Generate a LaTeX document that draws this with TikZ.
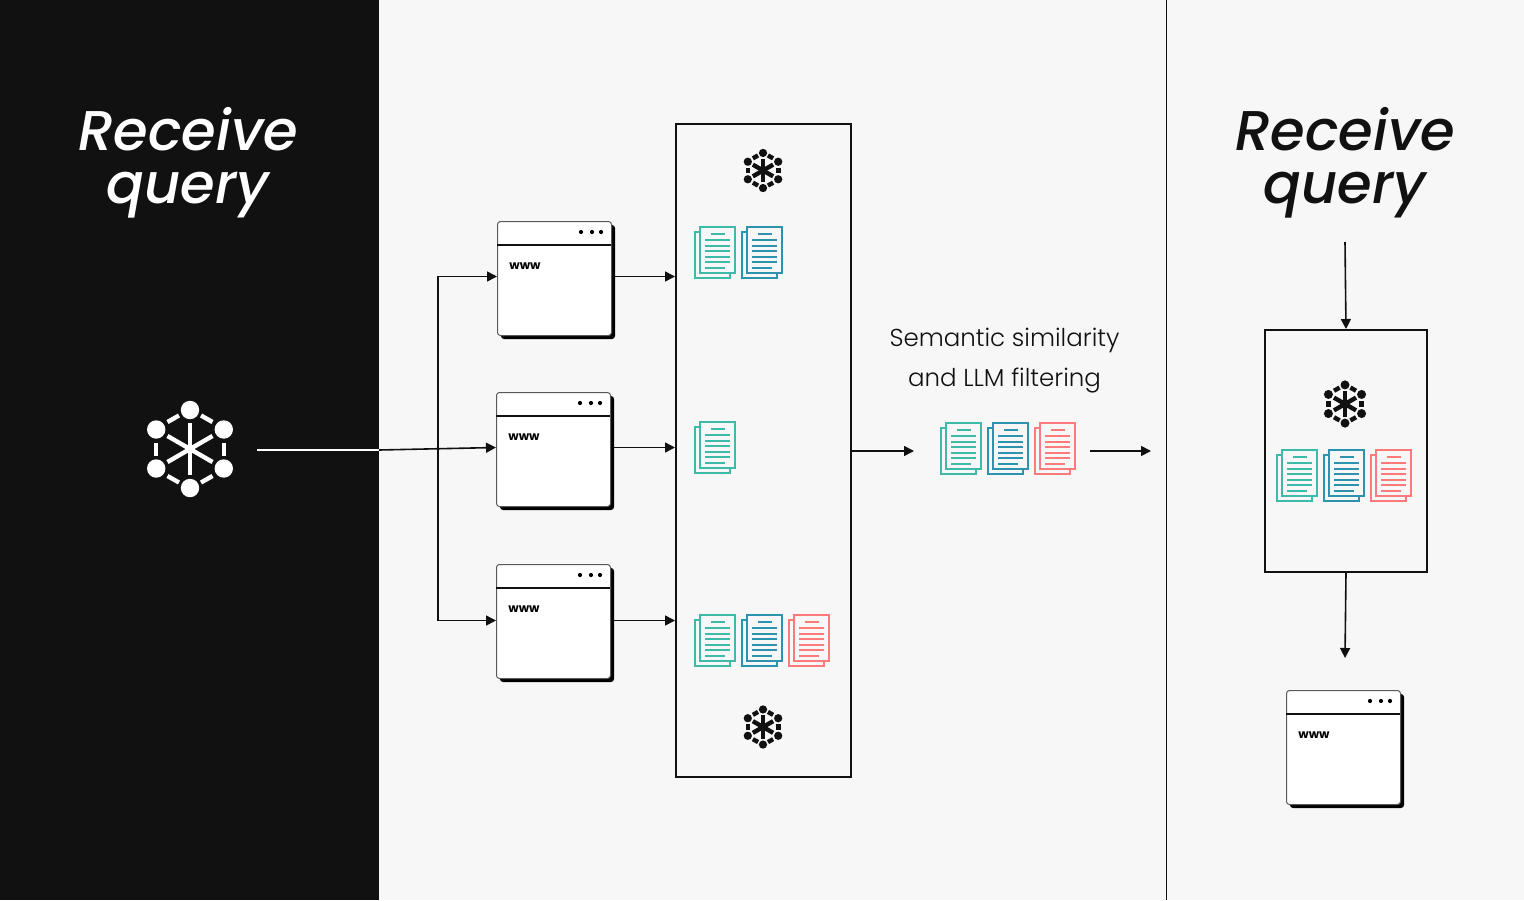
\documentclass[tikz,border=0pt]{standalone}
\usepackage{fontspec}
\setmainfont{Poppins}
\newfontfamily\headfont[UprightFont=* Medium Italic]{Poppins}
\newfontfamily\lightfont[UprightFont=* Light]{Poppins}
\usetikzlibrary{arrows.meta}
\definecolor{ink}{HTML}{111111}
\definecolor{paper}{HTML}{F7F7F7}
\definecolor{docteal}{HTML}{3EBBA8}
\definecolor{docblue}{HTML}{2E93AF}
\definecolor{docred}{HTML}{FF7B7B}
\tikzset{
  x=1pt,y=-1pt,
  conn/.style={draw=ink,line width=1.6pt,-{Triangle[length=10pt,width=10pt]}},
  plainconn/.style={draw=ink,line width=1.6pt},
  frame/.style={draw=ink,line width=2pt,fill=none,minimum width=#1,inner sep=0pt},
  head/.style={font=\headfont\fontsize{56}{53}\selectfont,align=center,inner sep=0pt},
  browser/.style={draw=ink!70,line width=1pt,fill=white,rounded corners=3pt,
    minimum width=114pt,minimum height=114pt,inner sep=0pt},
  doc/.pic={
    \draw[line width=2pt,draw=#1] (0,5) rectangle (35,51);
    \draw[line width=2pt,draw=#1,fill=paper] (5,0) rectangle (40,46);
    \foreach \yy/\xa/\xb in {7/16/30,13/10/35,18.7/10/35,24/10/35,29.7/10/35,35/10/35,40.7/10/30}
      \draw[line width=1.7pt,draw=#1] (\xa,\yy) -- (\xb,\yy);
  },
  hexicon/.pic={
    \foreach \a in {30,90,...,330} {
      \fill[#1] (\a:39) circle (9.2);
      \draw[#1,line width=4.4pt] (\a:14) ++(0,0);
    }
    \foreach \a in {30,90,150} \draw[draw=#1,line width=4.4pt] (\a:26) -- (\a+180:26);
    \foreach \a in {0,60,...,300} \draw[draw=#1,line width=4.4pt] (\a:33.8-7) ++(0,0);
    \draw[draw=#1,line width=4.4pt] (34,-6.5) -- (34,6.5);
    \draw[draw=#1,line width=4.4pt] (-34,-6.5) -- (-34,6.5);
    \draw[draw=#1,line width=4.4pt] (11,-33.5) -- (22.5,-27);
    \draw[draw=#1,line width=4.4pt] (-11,-33.5) -- (-22.5,-27);
    \draw[draw=#1,line width=4.4pt] (11,33.5) -- (22.5,27);
    \draw[draw=#1,line width=4.4pt] (-11,33.5) -- (-22.5,27);
  },
}
\newcommand{\browserparts}[1]{%
  \draw[ink,line width=1.2pt] (#1.west |- 0,0) ++(0,0);
}
\newcommand{\makebrowser}[3]{% name, left, top
  \fill[black,rounded corners=3pt] (#2+4,#3+4) rectangle (#2+118,#3+118);
  \node[browser,anchor=north west] (#1) at (#2,#3) {};
  \draw[ink,line width=1.2pt] (#2,#3+24) -- (#2+114,#3+24);
  \fill[black] (#2+84,#3+11) circle (2.1) (#2+95,#3+11) circle (2.1) (#2+104,#3+11) circle (2.1);
  \node[font=\fontsize{12}{12}\selectfont\bfseries,text=black,inner sep=0pt] (#1www) at (#2+28,#3+45) {www};
}
\begin{document}
\begin{tikzpicture}
\useasboundingbox (0,0) rectangle (1524,900);
\fill[paper] (0,0) rectangle (1524,900);
\fill[ink] (0,0) rectangle (379,900);
\draw[ink,line width=1pt] (1166.5,0) -- (1166.5,900);

\node[head,text=white] (leftTitle) at (188,163) {Receive\\query};
\node[head,text=ink] (rightTitle) at (1345,163) {Receive\\query};

\pic at (190,449) {hexicon=white};
\coordinate (qstart) at (257,450);
\coordinate (edge) at (379,450);
\coordinate (junction) at (438,450);

\makebrowser{b1}{497}{221}
\makebrowser{b2}{496}{392}
\makebrowser{b3}{496}{564}
\makebrowser{b4}{1286}{690}

\node[frame=175pt,minimum height=653pt,anchor=north west] (bigbox) at (675,123) {};
\node[frame=162pt,minimum height=242pt,anchor=north west] (rightbox) at (1264,329) {};

\draw[white,line width=1.6pt] (qstart) -- (edge);
\draw[conn] (edge) -- ([yshift=2pt]b2.west);
\draw[conn] (junction) -- ([yshift=2pt]junction |- b1.west) -- ([yshift=2pt]b1.west);
\draw[conn] (junction) -- ([yshift=1pt]junction |- b3.west) -- ([yshift=1pt]b3.west);
\draw[conn] ([shift={(3pt,2pt)}]b1.east) -- ([yshift=2pt]bigbox.west |- b1.east);
\draw[conn] ([shift={(3pt,2pt)}]b2.east) -- ([yshift=2pt]bigbox.west |- b2.east);
\draw[conn] ([shift={(3pt,1pt)}]b3.east) -- ([yshift=1pt]bigbox.west |- b3.east);

\coordinate (mid1) at (914,451);
\coordinate (mid2) at (1090,451);
\coordinate (mid3) at (1151,451);
\draw[conn] (bigbox.east |- mid1) -- (mid1);
\draw[conn] (mid2) -- (mid3);

\coordinate (rtop) at (1345,242);
\coordinate (rbot) at (1345,658);
\draw[conn] (rtop) -- (rightbox.north);
\draw[conn] (rightbox.south) -- (rbot);

\node[font=\lightfont\fontsize{24.5}{40}\selectfont,text=ink,align=center,inner sep=0pt] (label) at (1004.5,361) {Semantic similarity\\and LLM filtering};

\pic[scale=.45,transform shape] at (763,170.5) {hexicon=ink};
\pic[scale=.45,transform shape] at (763,727) {hexicon=ink};
\pic[scale=.49,transform shape] at (1345,404) {hexicon=ink};

\pic at (695,227) {doc=docteal};
\pic at (742,227) {doc=docblue};
\pic at (695,422) {doc=docteal};
\pic at (695,615) {doc=docteal};
\pic at (742,615) {doc=docblue};
\pic at (789,615) {doc=docred};
\pic at (941,423) {doc=docteal};
\pic at (988,423) {doc=docblue};
\pic at (1035,423) {doc=docred};
\pic at (1277,450) {doc=docteal};
\pic at (1324,450) {doc=docblue};
\pic at (1371,450) {doc=docred};
\end{tikzpicture}
\end{document}
